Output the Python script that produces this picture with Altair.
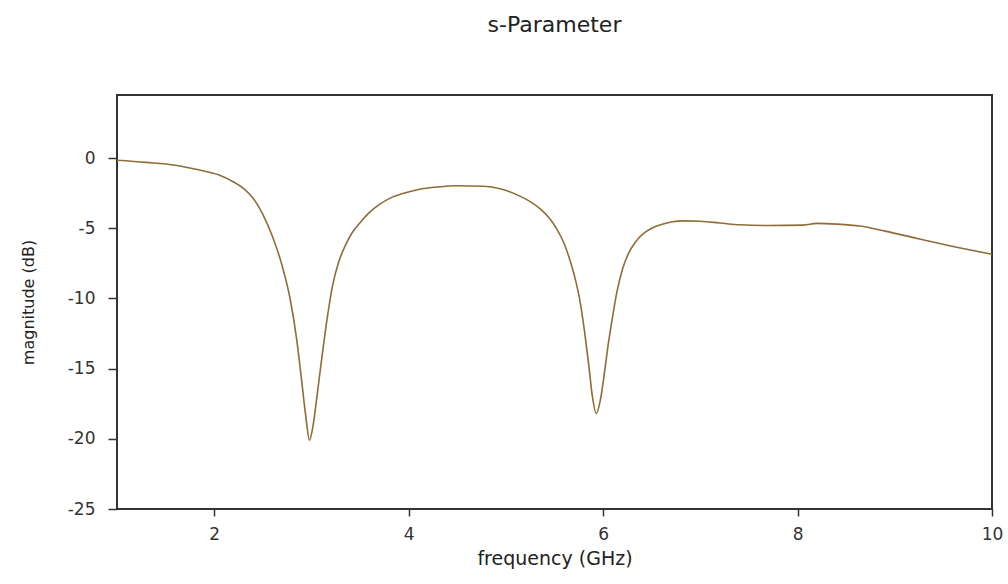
import altair as alt
import pandas as pd

# Values
freq_ghz = [1.00, 1.30, 1.60, 1.85, 2.05, 2.20, 2.30, 2.40, 2.50, 2.60, 2.70, 2.78,
            2.85, 2.90, 2.94, 2.98, 3.02, 3.06, 3.10, 3.16, 3.22, 3.28, 3.35, 3.42,
            3.50, 3.60, 3.70, 3.81, 3.95, 4.10, 4.30, 4.50, 4.77, 4.95, 5.11, 5.25,
            5.35, 5.45, 5.52, 5.60, 5.66, 5.72, 5.76, 5.81, 5.85, 5.89, 5.93, 5.97,
            6.01, 6.05, 6.10, 6.14, 6.20, 6.26, 6.33, 6.41, 6.50, 6.59, 6.70, 6.83,
            7.00, 7.20, 7.41, 7.70, 8.06, 8.20, 8.40, 8.64, 8.90, 9.23, 9.60, 10.00]
magnitude_db = [-0.15, -0.30, -0.50, -0.85, -1.20, -1.70, -2.15, -2.85, -4.00, -5.60, -7.70, -10.0,
                -13.0, -15.9, -18.3, -20.1, -18.9, -16.8, -14.6, -11.5, -9.0, -7.4, -6.2, -5.3,
                -4.6, -3.85, -3.3, -2.85, -2.5, -2.23, -2.05, -1.97, -2.0, -2.2, -2.6, -3.1,
                -3.6, -4.3, -5.0, -6.1, -7.3, -8.8, -10.1, -12.4, -14.6, -17.0, -18.2, -17.3,
                -15.5, -13.4, -11.2, -9.6, -7.9, -6.8, -6.0, -5.4, -5.0, -4.75, -4.55, -4.47,
                -4.5, -4.62, -4.75, -4.8, -4.77, -4.65, -4.7, -4.84, -5.2, -5.72, -6.3, -6.85]

x_ticks = [2, 4, 6, 8, 10]
y_ticks = [-25, -20, -15, -10, -5, 0]

df = pd.DataFrame({"frequency": freq_ghz, "magnitude": magnitude_db})

FONT = "DejaVu Sans"

line = alt.Chart(df).mark_line(
    color="#8f6c38", strokeWidth=1.6, interpolate="monotone"
).encode(
    x=alt.X(
        "frequency:Q",
        scale=alt.Scale(domain=[1, 10], nice=False, zero=False),
        axis=alt.Axis(
            values=x_ticks, title="frequency (GHz)", grid=False, domain=False,
            tickSize=7, tickWidth=1.5, tickColor="#333333",
            labelFont=FONT, labelFontSize=17, labelColor="#333333", labelPadding=10,
            labelFlush=False, labelExpr="datum.value + ''",
            titleFont=FONT, titleFontSize=19, titleFontWeight="normal", titleColor="#222222",
            titleBaseline="alphabetic", titleY=55,
        ),
    ),
    y=alt.Y(
        "magnitude:Q",
        scale=alt.Scale(domain=[-25, 4.5], nice=False, zero=False),
        axis=alt.Axis(
            values=y_ticks, title="magnitude (dB)", grid=False, domain=False,
            tickSize=9, tickWidth=1.5, tickColor="#333333",
            labelFont=FONT, labelFontSize=17, labelColor="#333333", labelPadding=13,
            labelFlush=False, labelExpr="datum.value + ''",
            titleFont=FONT, titleFontSize=16, titleFontWeight="normal", titleColor="#222222",
            titleBaseline="alphabetic", titleAngle=270, titleX=-84, titleY=207,
            titleAlign="center",
        ),
    ),
)

chart = line.properties(
    width=875,
    height=414,
    background="white",
    title=alt.TitleParams(
        "s-Parameter", font=FONT, fontSize=22, fontWeight="normal", color="#222222",
        anchor="middle", baseline="alphabetic", offset=41,
    ),
    autosize=alt.AutoSizeParams(type="none"),
    padding={"left": 117, "top": 95, "right": 16, "bottom": 75},
).configure_view(
    stroke="#333333", strokeWidth=2
)

chart.save("out.html", embed_options={"renderer": "svg", "actions": False})
